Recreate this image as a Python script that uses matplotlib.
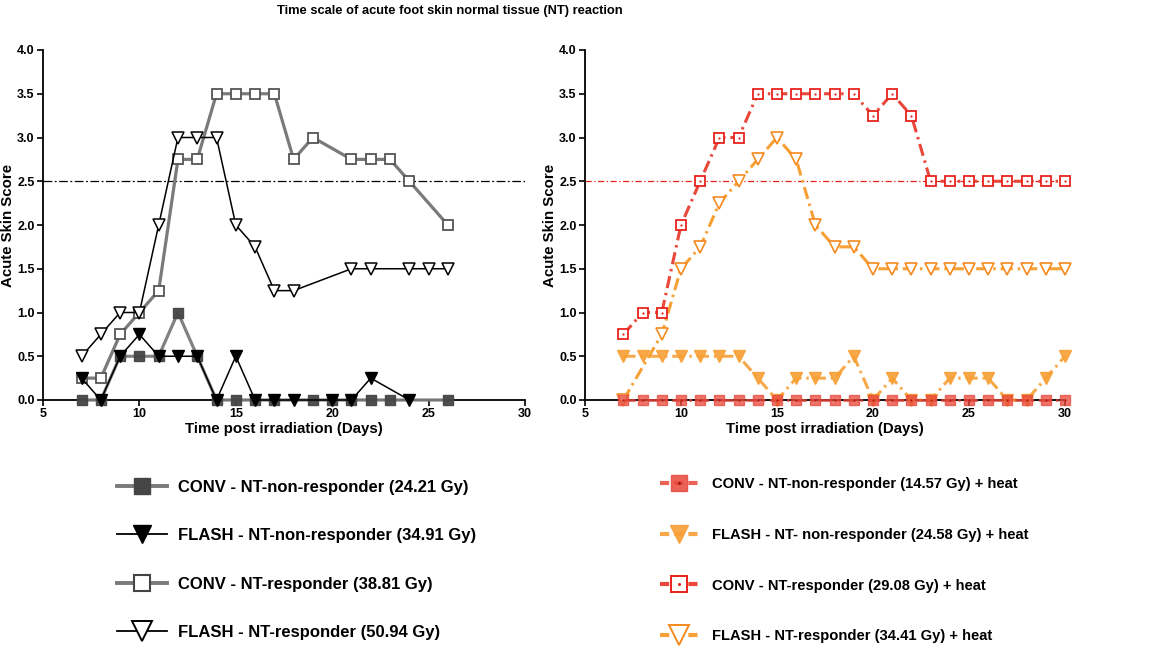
import matplotlib
matplotlib.use("Agg")
import matplotlib.pyplot as plt
from matplotlib.lines import Line2D
from matplotlib.legend_handler import HandlerTuple

# ---------------- data ----------------
title = "Time scale of acute foot skin normal tissue (NT) reaction"
xlabel = "Time post irradiation (Days)"
ylabel = "Acute Skin Score"
xticks = [5, 10, 15, 20, 25, 30]
yticks = [0.0, 0.5, 1.0, 1.5, 2.0, 2.5, 3.0, 3.5, 4.0]
threshold = 2.5

# left panel
conv_nr_days = [7, 8, 9, 10, 11, 12, 13, 14, 15, 16, 17, 19, 20, 21, 22, 23, 26]
conv_nr = [0, 0, 0.5, 0.5, 0.5, 1.0, 0.5, 0, 0, 0, 0, 0, 0, 0, 0, 0, 0]
flash_nr_days = [7, 8, 9, 10, 11, 12, 13, 14, 15, 16, 17, 18, 20, 21, 22, 24]
flash_nr = [0.25, 0, 0.5, 0.75, 0.5, 0.5, 0.5, 0, 0.5, 0, 0, 0, 0, 0, 0.25, 0]
conv_r_days = [7, 8, 9, 10, 11, 12, 13, 14, 15, 16, 17, 18, 19, 21, 22, 23, 24, 26]
conv_r = [0.25, 0.25, 0.75, 1.0, 1.25, 2.75, 2.75, 3.5, 3.5, 3.5, 3.5, 2.75, 3.0,
          2.75, 2.75, 2.75, 2.5, 2.0]
flash_r_days = [7, 8, 9, 10, 11, 12, 13, 14, 15, 16, 17, 18, 21, 22, 24, 25, 26]
flash_r = [0.5, 0.75, 1.0, 1.0, 2.0, 3.0, 3.0, 3.0, 2.0, 1.75, 1.25, 1.25, 1.5,
           1.5, 1.5, 1.5, 1.5]

left_labels = ["CONV - NT-non-responder (24.21 Gy)",
               "FLASH - NT-non-responder (34.91 Gy)",
               "CONV - NT-responder (38.81 Gy)",
               "FLASH - NT-responder (50.94 Gy)"]

# right panel (+ heat)
heat_days = list(range(7, 31))
conv_nr_heat = [0] * 24
flash_nr_heat = [0.5, 0.5, 0.5, 0.5, 0.5, 0.5, 0.5, 0.25, 0, 0.25, 0.25, 0.25,
                 0.5, 0, 0.25, 0, 0, 0.25, 0.25, 0.25, 0, 0, 0.25, 0.5]
conv_r_heat = [0.75, 1.0, 1.0, 2.0, 2.5, 3.0, 3.0, 3.5, 3.5, 3.5, 3.5, 3.5, 3.5,
               3.25, 3.5, 3.25, 2.5, 2.5, 2.5, 2.5, 2.5, 2.5, 2.5, 2.5]
flash_r_heat_days = [7, 9, 10, 11, 12, 13, 14, 15, 16, 17, 18, 19, 20, 21, 22,
                     23, 24, 25, 26, 27, 28, 29, 30]
flash_r_heat = [0, 0.75, 1.5, 1.75, 2.25, 2.5, 2.75, 3.0, 2.75, 2.0, 1.75, 1.75,
                1.5, 1.5, 1.5, 1.5, 1.5, 1.5, 1.5, 1.5, 1.5, 1.5, 1.5]

right_labels = ["CONV - NT-non-responder (14.57 Gy) + heat",
                "FLASH - NT- non-responder (24.58 Gy) + heat",
                "CONV - NT-responder (29.08 Gy) + heat",
                "FLASH - NT-responder (34.41 Gy) + heat"]

# ---------------- style ----------------
plt.rcParams['font.family'] = ['Liberation Sans', 'DejaVu Sans']

GRAY_LINE = '#7a7a7a'
GRAY_FILL = '#454545'
GRAY_EDGE = '#555555'
RED = '#e8473a'
RED_EDGE = '#e8231c'
ORANGE = '#f7a035'
ORANGE_EDGE = '#f58a1f'
DASHDOT = (0, (4, 1.6, 0.8, 1.6))

fig = plt.figure(figsize=(11.71, 6.48), dpi=100)
axL = fig.add_axes([43 / 1171, 1 - 400 / 648, 482 / 1171, 350 / 648])
axR = fig.add_axes([585 / 1171, 1 - 400 / 648, 480 / 1171, 350 / 648])


def style_axis(ax):
    ax.set_xlim(5, 30)
    ax.set_ylim(0, 4)
    ax.set_xticks(xticks)
    ax.set_yticks(yticks)
    ax.set_yticklabels([f"{v:.1f}" for v in yticks])
    for s in ['top', 'right']:
        ax.spines[s].set_visible(False)
    for s in ['left', 'bottom']:
        ax.spines[s].set_linewidth(1.3)
    ax.tick_params(direction='out', length=4, width=1.2, pad=2,
                   labelsize=9)
    for lab in ax.get_xticklabels() + ax.get_yticklabels():
        lab.set_fontweight('bold')
    ax.set_xlabel(xlabel, fontsize=10.8, fontweight='bold', labelpad=1)
    ax.set_ylabel(ylabel, fontsize=10.8, fontweight='bold', labelpad=1.5)


# ---- left panel ----
axL.axhline(threshold, color='black', lw=0.9, ls=(0, (7, 2, 1.5, 2)), zorder=1)
axL.plot(conv_nr_days, conv_nr, color=GRAY_LINE, lw=2.3, marker='s', ms=7,
         mfc=GRAY_FILL, mec=GRAY_FILL, alpha=0.95, zorder=3, clip_on=False)
axL.plot(conv_r_days, conv_r, color=GRAY_LINE, lw=2.3, marker='s', ms=7.5,
         mfc='white', mec=GRAY_EDGE, mew=1.3, zorder=3, clip_on=False)
axL.plot(flash_r_days, flash_r, color='black', lw=1.1, marker='v', ms=8.5,
         mfc='white', mec='black', mew=1.1, zorder=4, clip_on=False)
axL.plot(flash_nr_days, flash_nr, color='black', lw=1.1, marker='v', ms=8,
         mfc='black', mec='black', zorder=5, clip_on=False)
style_axis(axL)

# ---- right panel ----
axR.axhline(threshold, color='#e8231c', lw=0.9, ls=(0, (5, 2, 1, 2)), zorder=1)
axR.plot(heat_days, flash_nr_heat, color=ORANGE, lw=2.2, ls=DASHDOT, marker='v',
         ms=8.5, mfc=ORANGE, mec=ORANGE, alpha=0.9, zorder=3, clip_on=False)
axR.plot(flash_r_heat_days, flash_r_heat, color=ORANGE, lw=2.2, ls=DASHDOT,
         marker='v', ms=9, mfc='white', mec=ORANGE_EDGE, mew=1.2, zorder=3,
         clip_on=False)
axR.plot(heat_days, conv_r_heat, color=RED, lw=2.2, ls=DASHDOT, marker='s', ms=7.5,
         mfc='white', mec=RED_EDGE, mew=1.3, zorder=4, clip_on=False)
axR.plot(heat_days, conv_r_heat, ls='none', marker='o', ms=1.6, mfc=RED_EDGE,
         mec='none', zorder=4.5, clip_on=False)
axR.plot(heat_days, conv_nr_heat, color=RED, lw=2.2, ls=DASHDOT, marker='s', ms=7.5,
         mfc=RED, mec=RED, alpha=0.75, zorder=5, clip_on=False)
axR.plot(heat_days, conv_nr_heat, ls='none', marker='o', ms=1.6, mfc='#b02010',
         mec='none', zorder=5.5, clip_on=False)
style_axis(axR)

fig.text(450 / 1171, 0.993, title, ha='center', va='top', fontsize=9.3,
         fontweight='bold')

# ---- legends ----
hL = [Line2D([], [], color=GRAY_LINE, lw=2.8, marker='s', ms=11, mfc=GRAY_FILL,
             mec=GRAY_FILL),
      Line2D([], [], color='black', lw=1.3, marker='v', ms=13, mfc='black',
             mec='black'),
      Line2D([], [], color=GRAY_LINE, lw=2.8, marker='s', ms=12, mfc='white',
             mec='#444444', mew=1.5),
      Line2D([], [], color='black', lw=1.3, marker='v', ms=14, mfc='white',
             mec='black', mew=1.4)]
legL = fig.legend(hL, left_labels, loc='upper left',
                  bbox_to_anchor=(117 / 1171, 1 - 480 / 648), frameon=False,
                  borderpad=0, borderaxespad=0, handlelength=3.0,
                  handletextpad=0.65, labelspacing=2.0,
                  prop={'size': 12, 'weight': 'bold'})

dot_red = Line2D([], [], ls='none', marker='o', ms=2.2, mfc='#a01a0c', mec='none')
dot_red2 = Line2D([], [], ls='none', marker='o', ms=2.2, mfc=RED_EDGE, mec='none')
hR = [(Line2D([], [], color=RED, lw=3, ls=(0, (2.2, 1.2)), marker='s', ms=11,
              mfc=RED, mec=RED, alpha=0.85), dot_red),
      Line2D([], [], color=ORANGE, lw=3, ls=(0, (2.2, 1.2)), marker='v', ms=13,
             mfc=ORANGE, mec=ORANGE, alpha=0.9),
      (Line2D([], [], color=RED, lw=3, ls=(0, (2.2, 1.2)), marker='s', ms=12,
              mfc='white', mec=RED_EDGE, mew=1.4), dot_red2),
      Line2D([], [], color=ORANGE, lw=3, ls=(0, (2.2, 1.2)), marker='v', ms=14,
             mfc='white', mec=ORANGE_EDGE, mew=1.4)]
legR = fig.legend(hR, right_labels, loc='upper left',
                  bbox_to_anchor=(660 / 1171, 1 - 477 / 648), frameon=False,
                  borderpad=0, borderaxespad=0, handlelength=2.55,
                  handletextpad=0.95, labelspacing=2.5,
                  handler_map={tuple: HandlerTuple(ndivide=1, pad=0)},
                  prop={'size': 10.6, 'weight': 'bold'})

fig.savefig("out.png", dpi=100)
